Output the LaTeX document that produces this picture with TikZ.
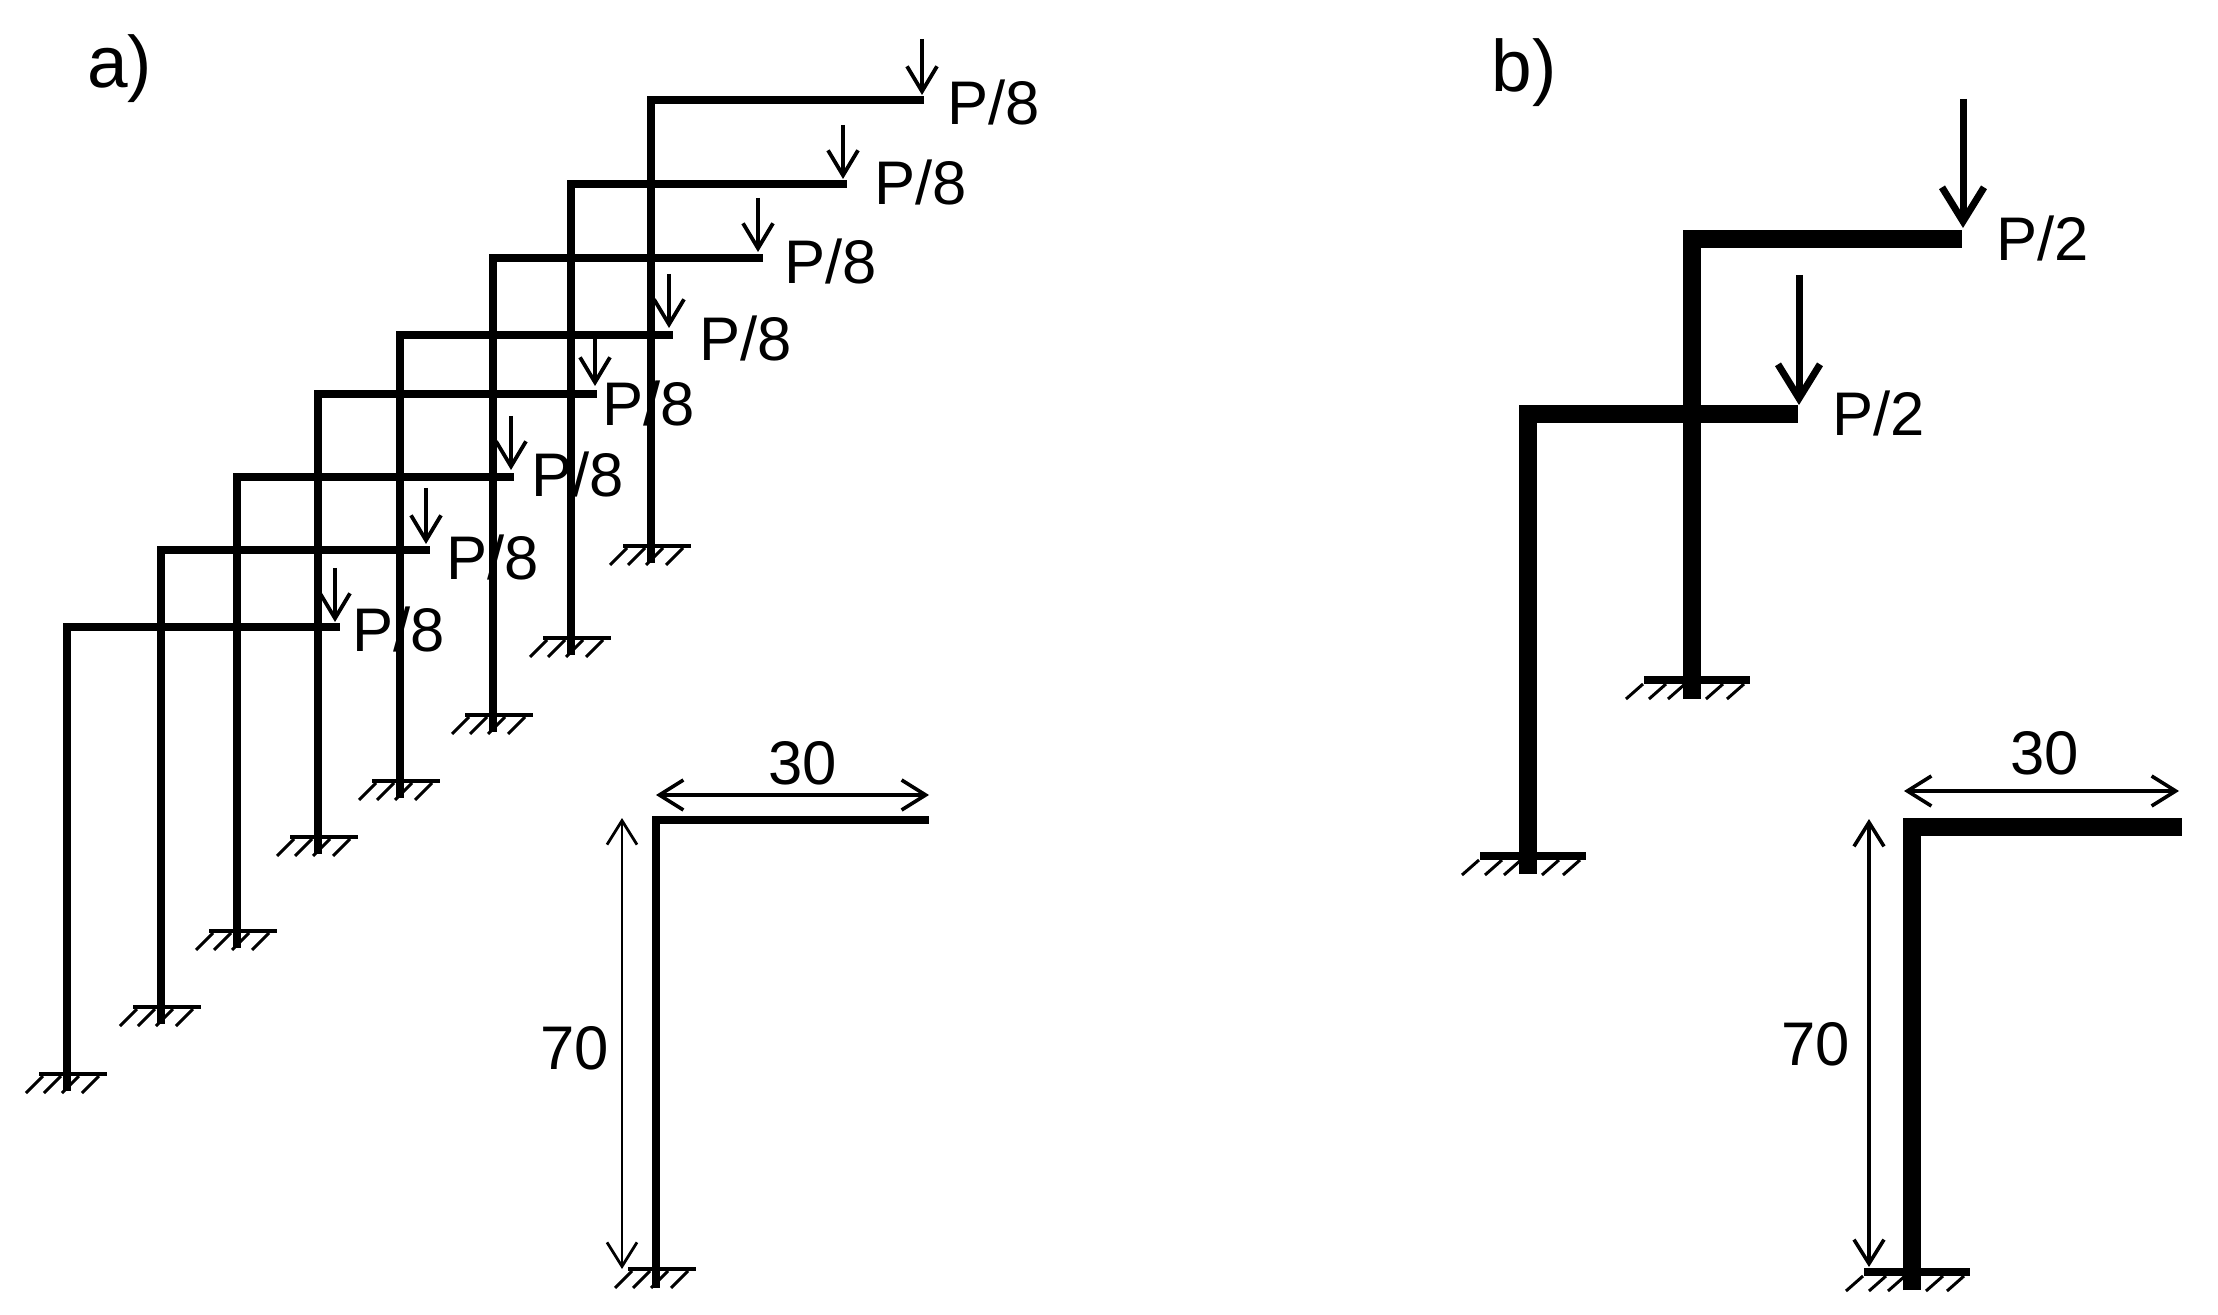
\documentclass[tikz,border=0pt]{standalone}
\usepackage{fontspec}
\setmainfont{Liberation Sans}
\usetikzlibrary{arrows.meta}
\tikzset{
  thinbar/.style={line width=3.9pt},
  fatbar/.style={line width=9pt},
  baseline a/.style={line width=2.4pt},
  baseline b/.style={line width=4pt},
  hatch/.style={line width=1.5pt},
  force a/.style={line width=1.9pt,-{Straight Barb[length=12.5pt,width=15pt]}},
  force b/.style={line width=3.5pt,-{Straight Barb[length=17pt,width=21pt]}},
  dim/.style={line width=1.8pt,{Straight Barb[length=12pt,width=15pt]}-{Straight Barb[length=12pt,width=15pt]}},
  txt/.style={font=\fontsize{30.8}{32}\selectfont,inner sep=0pt,anchor=base west},
  tag/.style={font=\fontsize{36.5}{38}\selectfont,inner sep=0pt,anchor=base west}
}
\newcommand{\supporta}[2]{%
  \draw[baseline a] ({#1-28},#2) -- ({#1+40},#2);
  \foreach \dx in {-41,-23,-5,15}
    \draw[hatch] ({#1+\dx},{#2+19}) -- ({#1+\dx+17},{#2+2});
}
\newcommand{\supportb}[2]{%
  \draw[baseline b] ({#1-48},#2) -- ({#1+58},#2);
  \foreach \dx in {-66,-43,-24,14,35}
    \draw[hatch] ({#1+\dx},{#2+19}) -- ({#1+\dx+17},{#2+4});
}
\begin{document}
\begin{tikzpicture}[x=0.5pt,y=-0.5pt]
\useasboundingbox (0,0) rectangle (2218,1315);
\node[tag] (taga) at (87,88) {a)};
\node[tag] (tagb) at (1491,92) {b)};
% eight small frames
\foreach \i/\cx/\by/\ex/\fy/\ax/\ay/\ty/\lx/\ly in {
  1/651/100/924/546/922/39/95/947/125,
  2/571/184/847/638/843/125/179/874/205,
  3/493/258/763/715/758/198/252/784/284,
  4/400/335/673/781/669/274/328/699/361,
  5/318/394/597/837/595/339/386/602/426,
  6/237/477/514/931/511/416/470/531/497,
  7/161/550/430/1007/426/488/544/446/580,
  8/67/627/340/1074/335/568/622/352/652}
{
  \draw[thinbar] (\cx,{\fy+17}) -- (\cx,\by) -- (\ex,\by);
  \supporta{\cx}{\fy}
  \draw[force a] (\ax,\ay) -- (\ax,\ty);
  \node[txt] (load\i) at (\lx,\ly) {P/8};
}
% single frame of a)
\draw[thinbar] (656,1288) -- (656,820) -- (929,820);
\supporta{656}{1269}
\draw[dim] (656,795) -- (929,795);
\draw[dim,line width=1.4pt] (622,818) -- (622,1269);
\node[txt] (widtha) at (768,784) {30};
\node[txt] (heighta) at (540,1069) {70};
% two frames of b)
\draw[fatbar] (1692,699) -- (1692,239) -- (1962,239);
\supportb{1692}{680}
\draw[force b] (1963,99) -- (1963,228);
\node[txt] (loadr) at (1996,261) {P/2};
\draw[fatbar] (1528,874) -- (1528,414) -- (1798,414);
\supportb{1528}{856}
\draw[force b] (1799,275) -- (1799,405);
\node[txt] (loadq) at (1832,436) {P/2};
% single frame of b)
\draw[fatbar] (1912,1290) -- (1912,827) -- (2182,827);
\supportb{1912}{1272}
\draw[dim] (1904,791) -- (2179,791);
\draw[dim] (1869,819) -- (1869,1267);
\node[txt] (widthb) at (2010,775) {30};
\node[txt] (heightb) at (1781,1065) {70};
\end{tikzpicture}
\end{document}
